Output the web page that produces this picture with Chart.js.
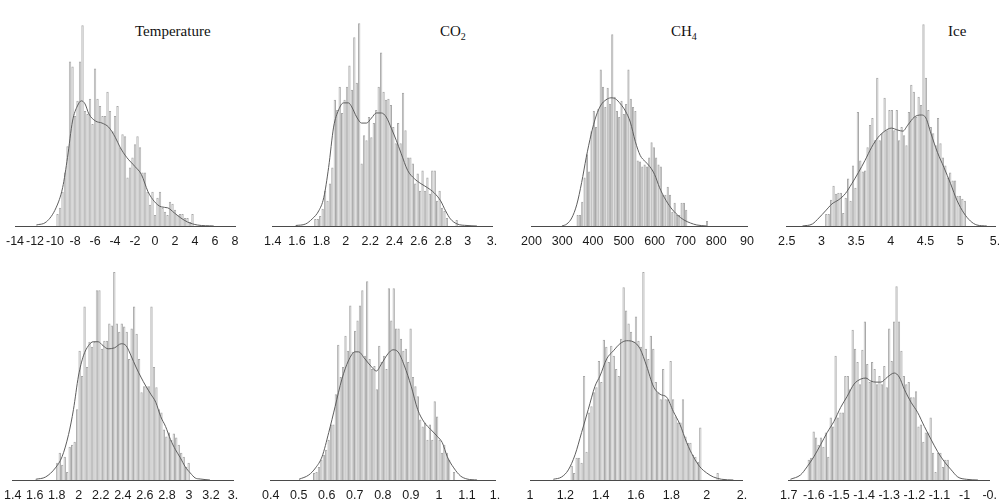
<!DOCTYPE html>
<html>
<head>
<meta charset="utf-8">
<script src="https://cdn.jsdelivr.net/npm/chart.js@4.4.1/dist/chart.umd.min.js"></script>
<style>
  html, body { margin: 0; padding: 0; background: #fff; overflow: hidden; }
  #wrap { position: relative; width: 999px; height: 504px; overflow: hidden; }
  #wrap canvas { position: absolute; }
  .title { position: absolute; font-family: "Liberation Serif", "Times New Roman", serif; font-size: 15px; line-height: 1; color: #111; white-space: nowrap; }
  .title sub { font-size: 10px; vertical-align: -4px; line-height: 0; }
</style>
</head>
<body>
<div id="wrap">
  <div class="title" style="left:135px;top:24px">Temperature</div>
  <div class="title" style="left:440px;top:24px">CO<sub>2</sub></div>
  <div class="title" style="left:671px;top:24px">CH<sub>4</sub></div>
  <div class="title" style="left:948px;top:24px">Ice</div>
</div>
<script>
// --- Data: histogram counts + density curve, per panel ---

// Temperature
const tempBinStart = -9.75, tempBinWidth = 0.25;
const tempCounts = [12,18,34,53,79,163,158,109,124,163,199,114,111,126,101,156,126,119,109,109,133,114,94,109,119,78,91,89,48,58,68,81,89,78,53,53,34,21,34,11,28,34,18,14,11,24,22,16,11,12,12,8,8,4,12];
const tempKdeX = [-11.87,-10.88,-9.9,-9.24,-8.75,-8.25,-7.76,-7.37,-7.0,-6.61,-5.95,-5.3,-4.64,-3.98,-3.49,-2.83,-2.01,-1.36,-0.7,-0.04,0.61,1.27,1.93,2.58,3.24,4.23,5.87];
const tempKdeY = [1,4,18,38,68,104,119,124,121,111,104,102,98,88,78,68,59,51,34,24,19,18,13,8,4,1,0];
const tempRange = [-14, 8];
const tempTicks = ["-14","-12","-10","-8","-6","-4","-2","0","2","4","6","8"];

// CO2
const co2BinStart = 1.75, co2BinWidth = 0.02;
const co2Counts = [7,7,10,17,35,25,42,58,125,115,138,112,125,138,159,135,187,142,201,62,90,85,108,88,102,115,138,172,133,125,126,120,98,82,102,82,132,95,68,68,62,42,52,35,55,35,48,32,55,55,25,35,18,15,8,0,0,0,6];
const co2KdeX = [1.589,1.67,1.724,1.778,1.819,1.859,1.9,1.941,1.981,2.022,2.049,2.089,2.13,2.17,2.211,2.251,2.292,2.332,2.373,2.414,2.454,2.508,2.562,2.616,2.67,2.724,2.778,2.819,2.859,2.914,2.995,3.076];
const co2KdeY = [0.5,2,7,15,28,58,98,115,122,122,118,108,102,102,107,112,112,108,97,85,72,55,47,42,38,33,25,15,7,2,0.5,0];
const co2Range = [1.4, 3.2];
const co2Ticks = ["1.4","1.6","1.8","2","2.2","2.4","2.6","2.8","3","3."];

// CH4
const ch4BinStart = 350, ch4BinWidth = 7.5;
const ch4Counts = [11,11,24,48,71,54,94,114,98,116,155,138,118,137,121,190,128,114,108,124,111,121,155,126,118,114,65,64,59,61,59,68,83,78,68,61,59,31,31,39,31,14,23,11,11,23,23,16,0,0,0,0,0,0,0,0,5];
const ch4KdeX = [299,315,331,347,363,378,394,410,426,442,458,473,489,505,521,537,553,569,584,600,616,632,653,674,695,716,737,769];
const ch4KdeY = [0,2,8,21,43,68,91,109,120,125,127,126,121,114,103,84,70,64,59,51,38,28,18,11,6,3,1,0];
const ch4Range = [200, 900];
const ch4Ticks = ["200","300","400","500","600","700","800","90"];

// Ice
const iceBinStart = 3.07, iceBinWidth = 0.035;
const iceCounts = [12,12,26,40,32,33,33,13,28,47,25,60,38,113,65,54,55,78,100,107,85,147,85,92,127,95,115,115,95,115,85,98,90,80,113,140,133,108,128,120,200,147,115,98,92,80,107,82,68,60,48,53,45,45,30,30,27,25];
const iceKdeX = [2.727,2.87,2.964,3.059,3.154,3.249,3.344,3.438,3.533,3.628,3.723,3.818,3.912,4.007,4.102,4.173,4.244,4.339,4.434,4.505,4.576,4.671,4.765,4.86,4.955,5.05,5.145,5.239,5.382];
const iceKdeY = [0,2,8,15,22,26,32,42,53,65,78,88,94,97,95,94,100,108,110,107,92,73,58,42,25,13,5,1,0];
const iceRange = [2.5, 5.5];
const iceTicks = ["2.5","3","3.5","4","4.5","5","5."];

// lower row, panel 1
const low1BinStart = 1.805, low1BinWidth = 0.0225;
const low1Counts = [17,27,15,23,8,33,35,38,70,128,103,172,112,137,132,137,188,188,130,138,138,155,153,206,155,147,155,152,147,120,150,172,145,120,87,93,93,93,172,112,92,70,67,50,43,47,40,46,42,35,27,23,13,17];
const low1KdeX = [1.609,1.699,1.788,1.848,1.907,1.952,1.997,2.042,2.087,2.131,2.176,2.221,2.266,2.325,2.385,2.43,2.475,2.519,2.564,2.609,2.654,2.699,2.743,2.788,2.833,2.878,2.922,2.967,3.012,3.057,3.101,3.191];
const low1KdeY = [0.7,3,12,23,45,70,103,123,133,137,137,133,130,131,135,133,123,112,102,93,85,77,63,53,40,30,22,13,7,2,1,0];
const low1Range = [1.4, 3.4];
const low1Ticks = ["1.4","1.6","1.8","2","2.2","2.4","2.6","2.8","3","3.2","3."];

// lower row, panel 2
const low2BinStart = 0.555, low2BinWidth = 0.0086;
const low2Counts = [7,8,13,20,25,30,40,55,55,85,134,102,112,143,128,173,127,148,158,173,188,123,197,120,110,113,90,133,117,123,110,190,158,190,150,150,140,128,130,117,150,102,93,83,60,53,57,40,55,40,78,63,40,27,35,27,20,0,8];
const low2KdeX = [0.501,0.536,0.56,0.583,0.607,0.63,0.654,0.677,0.701,0.713,0.736,0.76,0.777,0.795,0.818,0.836,0.854,0.877,0.901,0.924,0.948,0.971,0.995,1.012,1.03,1.053,1.077,1.1,1.136];
const low2KdeY = [0.7,5,12,23,47,73,100,118,127,127,120,112,108,115,125,129,127,113,93,70,57,50,43,37,23,12,4,1,0];
const low2Range = [0.4, 1.2];
const low2Ticks = ["0.4","0.5","0.6","0.7","0.8","0.9","1","1.1","1."];

// lower row, panel 3
const low3BinStart = 1.236, low3BinWidth = 0.014;
const low3Counts = [14,7,22,22,17,103,28,67,73,87,92,118,97,139,132,117,133,123,110,103,140,191,168,155,147,137,162,138,132,206,130,120,143,130,97,87,80,110,80,80,118,80,63,57,57,80,43,37,37,25,23,18,52,0,0,0,0,0,0,7];
const low3KdeX = [1.132,1.179,1.217,1.255,1.292,1.33,1.368,1.396,1.434,1.472,1.509,1.547,1.585,1.623,1.66,1.698,1.736,1.774,1.811,1.849,1.887,1.925,1.962,2.0,2.038,2.085,2.151];
const low3KdeY = [0.7,3,10,25,47,70,93,103,120,128,135,138,137,130,113,93,85,82,68,55,37,23,13,7,3,0.7,0];
const low3Range = [1, 2.2];
const low3Ticks = ["1","1.2","1.4","1.6","1.8","2","2."];

// lower row, panel 4
const low4BinStart = -1.62, low4BinWidth = 0.0097;
const low4Counts = [20,22,48,42,35,42,33,47,23,62,53,123,62,67,67,103,103,90,149,130,117,95,129,157,115,97,117,110,95,103,95,113,92,150,118,157,192,157,128,103,95,97,82,82,88,53,55,38,47,47,62,27,8,27,27,13,20,20];
const low4KdeX = [-1.693,-1.653,-1.627,-1.6,-1.573,-1.547,-1.52,-1.493,-1.467,-1.44,-1.413,-1.393,-1.373,-1.353,-1.333,-1.307,-1.28,-1.26,-1.24,-1.213,-1.187,-1.16,-1.133,-1.107,-1.08,-1.053,-1.027,-0.993,-0.947];
const low4KdeY = [0.7,5,13,23,35,47,58,72,83,95,100,101,98,97,97,102,106,102,90,77,67,53,40,28,18,10,3,0.7,0];
const low4Range = [-1.7, -0.9];
const low4Ticks = ["1.7","-1.6","-1.5","-1.4","-1.3","-1.2","-1.1","-1","-0."];

// --- Layout: where each panel's axis sits on the page ---
const PAD = 14;
const panels = [
  { start: tempBinStart, width: tempBinWidth, counts: tempCounts, kx: tempKdeX, ky: tempKdeY, range: tempRange, ticks: tempTicks, x0: 12,  x1: 235, top: 0 },
  { start: co2BinStart,  width: co2BinWidth,  counts: co2Counts,  kx: co2KdeX,  ky: co2KdeY,  range: co2Range,  ticks: co2Ticks,  x0: 270, x1: 492, top: 0 },
  { start: ch4BinStart,  width: ch4BinWidth,  counts: ch4Counts,  kx: ch4KdeX,  ky: ch4KdeY,  range: ch4Range,  ticks: ch4Ticks,  x0: 527, x1: 748, top: 0 },
  { start: iceBinStart,  width: iceBinWidth,  counts: iceCounts,  kx: iceKdeX,  ky: iceKdeY,  range: iceRange,  ticks: iceTicks,  x0: 784, x1: 995, top: 0 },
  { start: low1BinStart, width: low1BinWidth, counts: low1Counts, kx: low1KdeX, ky: low1KdeY, range: low1Range, ticks: low1Ticks, x0: 10,  x1: 233, top: 254 },
  { start: low2BinStart, width: low2BinWidth, counts: low2Counts, kx: low2KdeX, ky: low2KdeY, range: low2Range, ticks: low2Ticks, x0: 268, x1: 495, top: 254 },
  { start: low3BinStart, width: low3BinWidth, counts: low3Counts, kx: low3KdeX, ky: low3KdeY, range: low3Range, ticks: low3Ticks, x0: 530, x1: 742, top: 254 },
  { start: low4BinStart, width: low4BinWidth, counts: low4Counts, kx: low4KdeX, ky: low4KdeY, range: low4Range, ticks: low4Ticks, x0: 786, x1: 991, top: 254 }
];

function drawPanel(p) {
  const canvas = document.createElement("canvas");
  const w = p.x1 - p.x0 + 2 * PAD;
  canvas.width = w;
  canvas.height = 260;
  canvas.style.left = (p.x0 - PAD) + "px";
  canvas.style.top = p.top + "px";
  document.getElementById("wrap").appendChild(canvas);

  const bars = p.counts.map((c, i) => ({ x: +(p.start + i * p.width).toFixed(5), y: c }));
  const kde = p.kx.map((x, i) => ({ x: x, y: p.ky[i] }));
  const [min, max] = p.range;
  const labels = p.ticks;

  new Chart(canvas, {
    type: "bar",
    data: {
      datasets: [
        {
          type: "line",
          data: kde,
          borderColor: "#5e5e5e",
          borderWidth: 1,
          pointRadius: 0,
          cubicInterpolationMode: "monotone",
          fill: false,
          order: 0
        },
        {
          type: "bar",
          data: bars,
          backgroundColor: "#f2f2f2",
          borderColor: "#a8a8a8",
          borderWidth: 1,
          barPercentage: 0.95,
          categoryPercentage: 1,
          order: 1
        }
      ]
    },
    options: {
      responsive: false,
      animation: false,
      devicePixelRatio: 1,
      layout: { padding: { left: PAD, right: PAD, top: 6, bottom: 3 } },
      plugins: { legend: { display: false }, tooltip: { enabled: false } },
      scales: {
        x: {
          type: "linear",
          min: min,
          max: max,
          offset: false,
          grid: { display: false, drawTicks: false },
          border: { display: true, color: "#4a4a4a", width: 1 },
          afterBuildTicks: (scale) => {
            scale.ticks = labels.map((_, i) => ({ value: min + i * (max - min) / (labels.length - 1) }));
          },
          ticks: {
            autoSkip: false,
            maxRotation: 0,
            minRotation: 0,
            padding: 8,
            color: "#1a1a1a",
            font: { family: '"Liberation Sans", Arial, sans-serif', size: 12.5 },
            callback: (v, i) => labels[i]
          }
        },
        y: { display: false, min: 0, max: 218 }
      }
    }
  });
}

window.addEventListener("DOMContentLoaded", () => {
  panels.forEach(drawPanel);
});
</script>
</body>
</html>
